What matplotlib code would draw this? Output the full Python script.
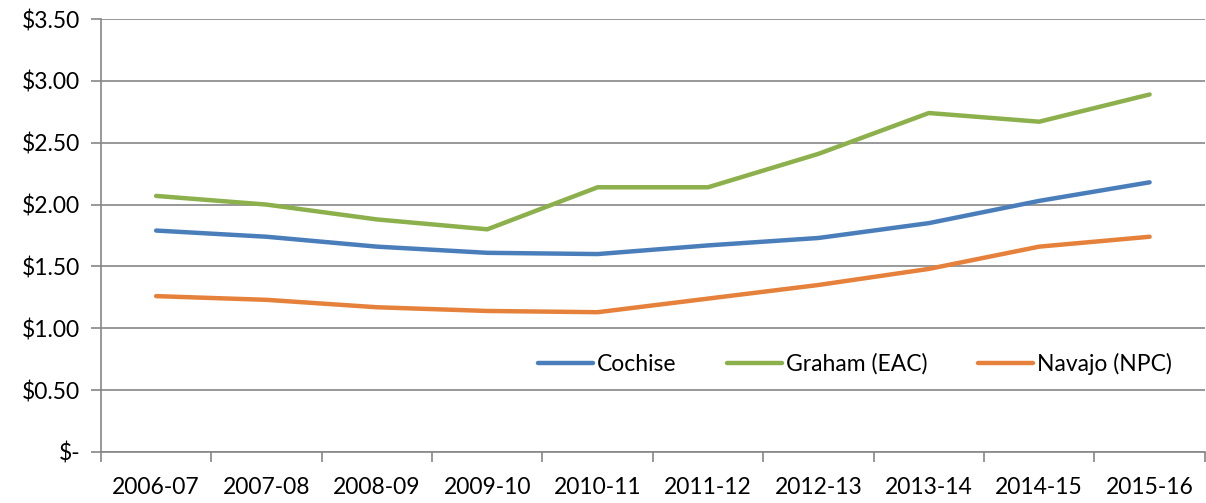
import numpy as np
import matplotlib
matplotlib.use("Agg")
import matplotlib.pyplot as plt

years = ["2006-07", "2007-08", "2008-09", "2009-10", "2010-11",
         "2011-12", "2012-13", "2013-14", "2014-15", "2015-16"]
cochise = [1.79, 1.74, 1.66, 1.61, 1.60, 1.67, 1.73, 1.85, 2.03, 2.18]
graham = [2.07, 2.00, 1.88, 1.80, 2.14, 2.14, 2.41, 2.74, 2.67, 2.89]
navajo = [1.26, 1.23, 1.17, 1.14, 1.13, 1.24, 1.35, 1.48, 1.66, 1.74]

plt.rcParams["font.family"] = ["Lato", "DejaVu Sans"]

fig = plt.figure(figsize=(12.06, 5.03), dpi=100)
ax = fig.add_axes([0.0837, 0.1014, 0.9153, 0.8608])

x = np.arange(len(years))
ax.plot(x, cochise, color="#4A7EBB", lw=3.2, label="Cochise", solid_capstyle="round")
ax.plot(x, graham, color="#8CB04C", lw=3.2, label="Graham (EAC)", solid_capstyle="round")
ax.plot(x, navajo, color="#E5813A", lw=3.2, label="Navajo (NPC)", solid_capstyle="round")

ax.set_xlim(-0.5, len(years) - 0.5)
ax.set_ylim(0, 3.5)
yt = np.arange(0, 3.51, 0.5)
ax.set_yticks(yt)
ax.set_yticklabels(["$-"] + [f"${v:.2f}" for v in yt[1:]])
ax.yaxis.grid(True, color="#868686", lw=1.2)
ax.set_axisbelow(True)

ax.set_xticks(x)
ax.set_xticklabels(years)
ax.set_xticks(np.arange(-0.5, len(years)), minor=True)
ax.tick_params(axis="x", which="major", length=0, pad=18, labelsize=16.5)
ax.tick_params(axis="x", which="minor", length=7, color="#868686", width=1.2)
ax.tick_params(axis="y", length=7, color="#868686", width=1.2, labelsize=16.5, pad=8)

for s in ["top", "right"]:
    ax.spines[s].set_visible(False)
for s in ["left", "bottom"]:
    ax.spines[s].set_color("#868686")
    ax.spines[s].set_linewidth(1.2)

leg = ax.legend(loc="center", bbox_to_anchor=(0.683, 0.204), ncol=3, frameon=False,
                fontsize=16.5, handlelength=2.4, handletextpad=0.17, columnspacing=2.2)

fig.savefig("out.png", dpi=100)
